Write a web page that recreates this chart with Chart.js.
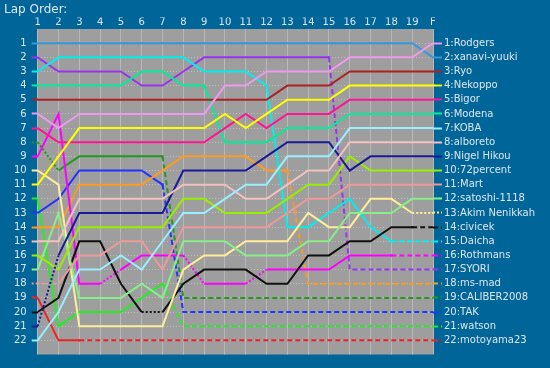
<!DOCTYPE html>
<html><head><meta charset="utf-8">
<script src="https://cdn.jsdelivr.net/npm/chart.js@4"></script>
<style>html,body{margin:0;padding:0;background:#006699;}#wrap{width:550px;height:368px;position:relative;}</style>
</head><body><div id="wrap"><canvas id="c"></canvas></div>
<script>
// ---- data ----
const lapLabels = ['1','2','3','4','5','6','7','8','9','10','11','12','13','14','15','16','17','18','19','F'];
const rowTicks = [1,2,3,4,5,6,7,8,9,10,11,12,13,14,15,16,17,18,19,20,21,22];
const driverNames = ['Rodgers','xanavi-yuuki','Ryo','Nekoppo','Bigor','Modena','KOBA','alboreto','Nigel Hikou','72percent','Mart','satoshi-1118','Akim Nenikkah','civicek','Daicha','Rothmans','SYORI','ms-mad','CALIBER2008','TAK','watson','motoyama23'];
const driverColors = ['#ee99ee','#3399dd','#aa2222','#ffff00','#ff1493','#00ee99','#99eeff','#f4c0c0','#1a1a99','#99ee00','#ee9999','#88ee88','#ffee99','#111111','#00eeee','#ff00ff','#9933ee','#ff9922','#229922','#2233ff','#22ee22','#ee2222'];

const rodgers   = [6,7,6,6,6,6,6,6,6,4,4,3,3,3,3,2,2,2,2,1];
const xanavi    = [1,1,1,1,1,1,1,1,1,1,1,1,1,1,1,1,1,1,1,2];
const ryo       = [5,5,5,5,5,5,5,5,5,5,5,5,4,4,4,3,3,3,3,3];
const nekoppo   = [11,9,7,7,7,7,7,7,7,6,7,6,5,5,5,4,4,4,4,4];
const bigor     = [7,8,8,8,8,8,8,8,8,7,6,7,6,6,6,5,5,5,5,5];
const modena    = [4,4,4,4,4,3,3,4,4,8,8,8,7,7,7,6,6,6,6,6];
const koba      = [22,20,17,17,16,17,15,13,13,12,11,11,9,9,9,7,7,7,7,7];
const alboreto  = [15,15,12,12,12,12,12,11,11,11,12,12,11,10,10,8,8,8,8,8];
const nigel     = [21,16,13,13,13,13,13,10,10,10,10,9,8,8,8,10,9,9,9,9];
const percent72 = [16,17,14,14,14,14,14,12,12,13,13,13,12,11,11,9,10,10,10,10];
const mart      = [18,18,16,16,15,15,17,14,14,14,14,14,13,12,12,11,11,11,11,11];
const satoshi   = [17,13,19,19,19,18,19,15,15,15,16,16,16,15,15,13,13,13,12,12];
const akim      = [10,11,21,21,21,21,21,17,16,16,15,15,15,13,14,14,12,12,13,13];
const civicek   = [20,19,15,15,18,20,20,18,17,17,17,18,18,16,16,15,15,14,14,14];
const daicha    = [3,2,2,2,2,2,2,2,3,3,3,4,14,14,13,12,14,15,15,15];
const rothmans  = [9,6,18,18,17,16,16,16,18,18,18,17,17,17,17,16,16,16,16,16];
const syori     = [2,3,3,3,3,4,4,3,2,2,2,2,2,2,2,17,17,17,17,17];
const msmad     = [14,14,11,11,11,11,10,9,9,9,9,10,10,18,18,18,18,18,18,18];
const caliber   = [8,10,9,9,9,9,9,19,19,19,19,19,19,19,19,19,19,19,19,19];
const tak       = [13,12,10,10,10,10,11,20,20,20,20,20,20,20,20,20,20,20,20,20];
const watson    = [12,21,20,20,20,19,18,21,21,21,21,21,21,21,21,21,21,21,21,21];
const motoyama  = [19,22,22,22,22,22,22,22,22,22,22,22,22,22,22,22,22,22,22,22];

const positions = [rodgers,xanavi,ryo,nekoppo,bigor,modena,koba,alboreto,nigel,percent72,mart,satoshi,akim,civicek,daicha,rothmans,syori,msmad,caliber,tak,watson,motoyama];
// pit-stop segments (index of the lap a dotted segment ends at)
const pitSegments = [[],[],[],[],[],[],[],[],[1],[],[1],[],[19],[6],[],[4,8,11],[],[],[1],[],[],[]];
// index of last lap actually run (null = finished)
const lastRunLap = [null,null,null,null,null,null,null,null,null,null,null,null,null,18,17,17,14,12,6,6,6,2];
// drivers whose grid marker is drawn dashed
const dashedGridStart = ['Mart','CALIBER2008'];

// ---- chart ----
const TXT = '#dde6ee';
const FONT = 'DejaVu Sans';
const startOrder = rowTicks.map(r => positions.findIndex(p => p[0] === r));

const datasets = positions.map((pos, d) => ({
  label: driverNames[d],
  data: pos,
  borderColor: driverColors[d],
  backgroundColor: driverColors[d],
  borderWidth: 2,
  tension: 0,
  fill: false,
  pointStyle: 'rect',
  pointRadius: ctx => (lastRunLap[d] !== null && ctx.dataIndex === lastRunLap[d]) ? 1.6 : 0,
  pointBorderWidth: 0,
  segment: {
    borderDash: ctx => {
      if (lastRunLap[d] !== null && ctx.p0DataIndex >= lastRunLap[d]) return [5, 3];
      if (pitSegments[d].includes(ctx.p1DataIndex)) return [2, 2];
      return undefined;
    }
  }
}));

const bgPlugin = {
  id: 'plotBg',
  beforeDraw(chart) {
    const {ctx, chartArea: a} = chart;
    ctx.save();
    ctx.fillStyle = '#9e9e9e';
    ctx.fillRect(a.left, a.top, a.right - a.left, a.bottom - a.top);
    ctx.restore();
  }
};

new Chart(document.getElementById('c'), {
  type: 'line',
  data: { labels: lapLabels, datasets },
  plugins: [bgPlugin],
  options: {
    responsive: true,
    maintainAspectRatio: false,
    animation: false,
    events: [],
    layout: { padding: { left: 4, right: 0, top: 0, bottom: 13.5 } },
    plugins: {
      legend: { display: false },
      tooltip: { enabled: false },
      title: {
        display: true, text: 'Lap Order:', align: 'start', color: TXT,
        font: { family: FONT, size: 12, weight: 'normal', lineHeight: 1.2 },
        padding: { top: 3, bottom: 0 }
      }
    },
    scales: {
      x: {
        type: 'category', position: 'top', offset: false,
        grid: { color: '#b8b8b8', lineWidth: 1, drawTicks: false },
        border: { display: false },
        ticks: { color: TXT, font: { family: FONT, size: 10 }, padding: 1, autoSkip: false, maxRotation: 0 },
        afterFit: s => { s.height = 29 - 17.4; }
      },
      y: {
        type: 'linear', position: 'left', reverse: true, min: 0, max: 23,
        afterBuildTicks: s => { s.ticks = rowTicks.map(v => ({ value: v })); },
        afterFit: s => { s.width = 33.7; },
        grid: {
          color: 'rgba(215,215,215,0.55)', lineWidth: 1, drawTicks: true, tickLength: 6, tickWidth: 2,
          tickColor: ctx => driverColors[startOrder[ctx.index]] || 'transparent',
          tickBorderDash: ctx => dashedGridStart.includes(driverNames[startOrder[ctx.index]]) ? [2, 2] : []
        },
        border: { display: false, dash: [1, 2] },
        ticks: { color: TXT, font: { family: FONT, size: 10 }, padding: 5, autoSkip: false }
      },
      y2: {
        type: 'linear', position: 'right', reverse: true, min: 0, max: 23,
        afterBuildTicks: s => { s.ticks = rowTicks.map(v => ({ value: v })); },
        afterFit: s => { s.width = 117; },
        grid: {
          drawOnChartArea: false, drawTicks: true, tickLength: 9, tickWidth: 2,
          tickColor: ctx => driverColors[ctx.index] || 'transparent',
          tickBorderDash: ctx => {
            const d = ctx.index;
            if (lastRunLap[d] !== null && lastRunLap[d] !== undefined) return [5, 3];
            if (pitSegments[d] && pitSegments[d].includes(19)) return [2, 2];
            return [];
          }
        },
        border: { display: false },
        ticks: {
          color: TXT, font: { family: FONT, size: 10 }, padding: 2, autoSkip: false,
          callback: (v, i) => (i + 1) + ':' + driverNames[i]
        }
      }
    }
  }
});
</script>
</body></html>
